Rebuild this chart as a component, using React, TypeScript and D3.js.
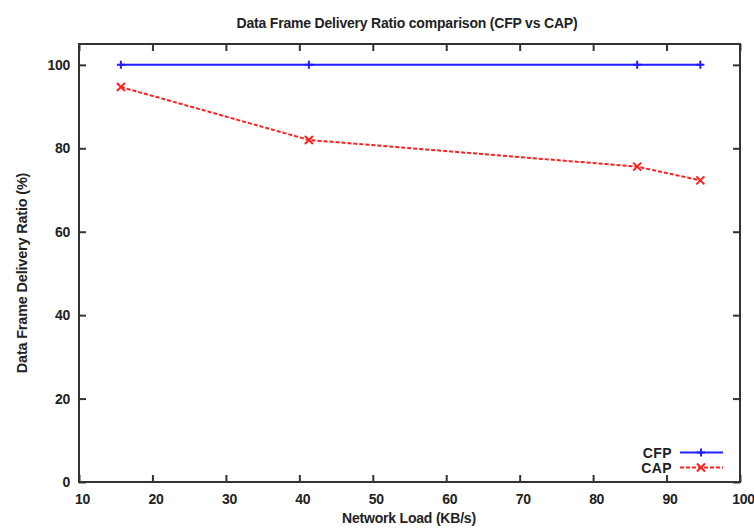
import React, { useRef, useEffect } from 'react';
import * as d3 from 'd3';

const loads = [15.7, 41.3, 86.0, 94.6];
const cfpValues = [100, 100, 100, 100];
const capValues = [94.7, 82.0, 75.6, 72.3];
const xTicks = [10, 20, 30, 40, 50, 60, 70, 80, 90, 100];
const yTicks = [0, 20, 40, 60, 80, 100];

const series = [
  { name: 'CFP', values: cfpValues, color: '#1f1fff', dash: null, marker: 'plus' },
  { name: 'CAP', values: capValues, color: '#ff1f1f', dash: '4,2', marker: 'cross' },
];

const width = 754;
const height = 528;
const margin = { top: 44, right: 14, bottom: 46, left: 79 };
const font = '"Liberation Sans", Arial, sans-serif';

const App = () => {
  const ref = useRef(null);

  useEffect(() => {
    const svg = d3.select(ref.current);
    svg.selectAll('*').remove();

    const x = d3.scaleLinear().domain([10, 100]).range([margin.left, width - margin.right]);
    const y = d3.scaleLinear().domain([0, 105]).range([height - margin.bottom, margin.top]);

    const frame = '#333';

    // ticks on all four sides
    const g = svg.append('g');
    g.append('g')
      .attr('transform', `translate(0,${y(0)})`)
      .call(d3.axisBottom(x).tickValues(xTicks).tickSize(-7).tickPadding(12).tickSizeOuter(0))
      .call((a) => a.select('.domain').remove())
      .call((a) => a.selectAll('.tick text').attr('dx', 3));
    g.append('g')
      .attr('transform', `translate(0,${y(105)})`)
      .call(d3.axisTop(x).tickValues(xTicks).tickSize(-7).tickFormat(() => '').tickSizeOuter(0))
      .call((a) => a.select('.domain').remove());
    g.append('g')
      .attr('transform', `translate(${x(10)},0)`)
      .call(d3.axisLeft(y).tickValues(yTicks).tickSize(-7).tickPadding(9).tickSizeOuter(0))
      .call((a) => a.select('.domain').remove());
    g.append('g')
      .attr('transform', `translate(${x(100)},0)`)
      .call(d3.axisRight(y).tickValues(yTicks).tickSize(-7).tickFormat(() => '').tickSizeOuter(0))
      .call((a) => a.select('.domain').remove());

    g.selectAll('.tick line').attr('stroke', frame).attr('stroke-width', 2);
    g.selectAll('.tick text')
      .attr('fill', '#222')
      .style('font-family', font)
      .style('font-size', '14px')
      .style('font-weight', 'bold')
      .style('letter-spacing', '-0.3px');

    svg.append('rect')
      .attr('x', x(10))
      .attr('y', y(105))
      .attr('width', x(100) - x(10))
      .attr('height', y(0) - y(105))
      .attr('fill', 'none')
      .attr('stroke', frame)
      .attr('stroke-width', 2);

    const line = d3.line<number>()
      .x((d, i) => x(loads[i]))
      .y((d) => y(d));

    const drawMarker = (sel, kind, color, cx, cy) => {
      const s = 4;
      if (kind === 'plus') {
        sel.append('path')
          .attr('d', `M${cx - s},${cy}H${cx + s}M${cx},${cy - s}V${cy + s}`)
          .attr('stroke', color).attr('stroke-width', 2);
      } else {
        sel.append('path')
          .attr('d', `M${cx - s},${cy - s}L${cx + s},${cy + s}M${cx - s},${cy + s}L${cx + s},${cy - s}`)
          .attr('stroke', color).attr('stroke-width', 2);
      }
    };

    series.forEach((s) => {
      svg.append('path')
        .datum(s.values)
        .attr('fill', 'none')
        .attr('stroke', s.color)
        .attr('stroke-width', 2)
        .attr('stroke-dasharray', s.dash)
        .attr('d', line);
      s.values.forEach((v, i) => drawMarker(svg, s.marker, s.color, x(loads[i]), y(v)));
    });

    // legend
    series.forEach((s, i) => {
      const ly = 452.5 + i * 15;
      svg.append('text')
        .attr('x', 672)
        .attr('y', ly)
        .attr('dy', '0.36em')
        .attr('text-anchor', 'end')
        .attr('fill', '#222')
        .style('font-family', font)
        .style('font-size', '14px')
        .style('font-weight', 'bold')
        .style('letter-spacing', '0.4px')
        .text(s.name);
      svg.append('line')
        .attr('x1', 680).attr('x2', 723)
        .attr('y1', ly).attr('y2', ly)
        .attr('stroke', s.color)
        .attr('stroke-width', 2)
        .attr('stroke-dasharray', s.dash);
      drawMarker(svg, s.marker, s.color, 701, ly);
    });

    const label = (sel) => sel
      .attr('text-anchor', 'middle')
      .attr('fill', '#222')
      .style('font-family', font)
      .style('font-size', '14px')
      .style('font-weight', 'bold')
      .style('letter-spacing', '-0.2px');

    svg.append('text')
      .attr('x', 407)
      .attr('y', 28)
      .call(label)
      .text('Data Frame Delivery Ratio comparison (CFP vs CAP)');

    svg.append('text')
      .attr('x', 409)
      .attr('y', 523)
      .call(label)
      .text('Network Load (KB/s)');

    svg.append('text')
      .attr('transform', 'translate(27,273) rotate(-90)')
      .call(label)
      .style('font-size', '14.5px')
      .text('Data Frame Delivery Ratio (%)');
  }, []);

  return (
    <svg
      ref={ref}
      width={width}
      height={height}
      style={{ position: 'absolute', left: 0, top: 0, background: '#fff' }}
    />
  );
};

export default App;
